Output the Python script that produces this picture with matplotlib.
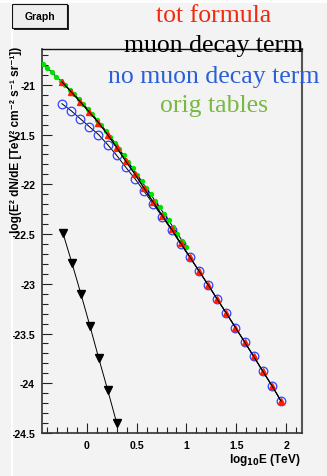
import matplotlib
matplotlib.use("Agg")
import matplotlib.pyplot as plt
from matplotlib.patches import Rectangle
from matplotlib.lines import Line2D
from matplotlib.ticker import MultipleLocator

# ---------------- data ----------------
logE = [-0.250, -0.158, -0.067, 0.025, 0.117, 0.208, 0.300, 0.392, 0.484,
        0.575, 0.667, 0.758, 0.850, 0.942, 1.034, 1.125, 1.217, 1.309,
        1.400, 1.492, 1.584, 1.675, 1.767, 1.859, 1.950]
tot_formula = [-20.97, -21.07, -21.17, -21.275, -21.38, -21.50, -21.63, -21.77,
               -21.90, -22.04, -22.18, -22.315, -22.45, -22.59, -22.73, -22.87,
               -23.01, -23.155, -23.295, -23.44, -23.585, -23.73, -23.88,
               -24.025, -24.18]
no_muon = [-21.19, -21.26, -21.34, -21.42, -21.50, -21.60, -21.71, -21.83,
           -21.945, -22.07, -22.20, -22.325, -22.46, -22.60, -22.735, -22.87,
           -23.01, -23.155, -23.295, -23.44, -23.585, -23.73, -23.88,
           -24.025, -24.18]
muon_logE = [-0.240, -0.150, -0.060, 0.030, 0.120, 0.210, 0.300]
muon_decay = [-22.49, -22.79, -23.10, -23.42, -23.75, -24.07, -24.40]
orig_logE = [-0.440, -0.395, -0.350, -0.305, -0.260, -0.215, -0.170, -0.125,
             -0.080, -0.035, 0.010, 0.055, 0.100, 0.145, 0.190, 0.235, 0.280,
             0.325, 0.370, 0.415, 0.460, 0.505, 0.550, 0.595, 0.640, 0.685,
             0.730, 0.775, 0.820, 0.865, 0.910, 0.955, 1.000]
orig_tables = [-20.79, -20.83, -20.875, -20.92, -20.96, -21.005, -21.05,
               -21.095, -21.145, -21.195, -21.245, -21.295, -21.35, -21.405,
               -21.46, -21.52, -21.58, -21.645, -21.71, -21.775, -21.84,
               -21.905, -21.97, -22.035, -22.10, -22.165, -22.23, -22.295,
               -22.36, -22.43, -22.495, -22.565, -22.635]

legend_labels = ["tot formula", "muon decay term", "no muon decay term", "orig tables"]
legend_colors = ["#f02a10", "#000000", "#2a5fd8", "#78b843"]

xticks = [0, 0.5, 1, 1.5, 2]
yticks = [-24.5, -24, -23.5, -23, -22.5, -22, -21.5, -21]

# ---------------- figure ----------------
W, H = 327, 477
bg = "#f3f3f3"
fig = plt.figure(figsize=(W / 100, H / 100), dpi=100, facecolor=bg)
ax = fig.add_axes([42 / W, 1 - 434 / H, (302 - 42) / W, (434 - 50) / H])
ax.set_facecolor(bg)

# canvas bevel edges
fig.add_artist(Line2D([11.5 / W, 11.5 / W], [0, 1], color="white", lw=1.5,
                      transform=fig.transFigure))
fig.add_artist(Line2D([0, 1], [1 - 1.5 / H, 1 - 1.5 / H], color="white", lw=2,
                      transform=fig.transFigure))

lw_line = 0.7
ax.plot(orig_logE, orig_tables, color="black", lw=lw_line, marker="o",
        markersize=2.8, markerfacecolor="#00e000", markeredgecolor="#00e000", zorder=3)
ax.plot(logE, no_muon, color="black", lw=lw_line, marker="o", markersize=6.2,
        markerfacecolor="none", markeredgecolor="#2f44ff", markeredgewidth=0.9, zorder=2)
ax.plot(logE, tot_formula, color="black", lw=lw_line, marker="^", markersize=4.6,
        markerfacecolor="#ff2000", markeredgecolor="#ff2000", zorder=4)
ax.plot(logE, tot_formula, color="black", lw=lw_line, zorder=5)
ax.plot(muon_logE, muon_decay, color="black", lw=lw_line, marker="v",
        markersize=6, markerfacecolor="black", markeredgecolor="black", zorder=3)

ax.set_xlim(-0.45, 2.16)
ax.set_ylim(-24.5, -20.64)
ax.set_xticks(xticks)
ax.set_xticklabels(["0", "0.5", "1", "1.5", "2"])
ax.set_yticks(yticks)
ax.set_yticklabels(["-24.5", "-24", "-23.5", "-23", "-22.5", "-22", "-21.5", "-21"])
ax.xaxis.set_minor_locator(MultipleLocator(0.1))
ax.yaxis.set_minor_locator(MultipleLocator(0.1))
ax.tick_params(which="major", direction="in", length=7.5, width=0.8, color="#222222",
               top=False, right=False, pad=5)
ax.tick_params(which="minor", direction="in", length=4, width=0.8, color="#222222",
               top=False, right=False)
for lab in ax.get_xticklabels() + ax.get_yticklabels():
    lab.set_fontfamily(["Liberation Sans", "DejaVu Sans"])
    lab.set_fontweight("bold")
    lab.set_fontsize(7.6)
for s in ["left", "bottom"]:
    ax.spines[s].set_color("#333333")
    ax.spines[s].set_linewidth(1.2)
ax.spines["right"].set_color("#555555")
ax.spines["right"].set_linewidth(1.5)
ax.spines["top"].set_color("#111111")
ax.spines["top"].set_linewidth(1.0)

# axis titles
fig.text(16 / W, 1 - 47 / H,
         "log(E² dN/dE [TeV² cm⁻² s⁻¹ sr⁻¹])",
         rotation=90, ha="center", va="top", fontsize=8.6, fontweight="bold",
         family=["Liberation Sans", "DejaVu Sans"])
fig.text(300 / W, 1 - 460 / H, r"log$_{\mathbf{10}}$E (TeV)", ha="right", va="center",
         fontsize=8.5, fontweight="bold", family=["Liberation Sans", "DejaVu Sans"])

# "Graph" box
fig.add_artist(Rectangle((14 / W, 1 - 31 / H), 55 / W, 25 / H, transform=fig.transFigure,
                         facecolor="#222222", edgecolor="none", zorder=5))
fig.add_artist(Rectangle((12 / W, 1 - 29 / H), 55 / W, 24 / H, transform=fig.transFigure,
                         facecolor="#eeeeee", edgecolor="#111111", lw=0.8, zorder=6))
fig.text(39.5 / W, 1 - 17 / H, "Graph", ha="center", va="center", fontsize=7.5,
         fontweight="bold", family=["Liberation Sans", "DejaVu Sans"], zorder=7)

# legend-like texts
ys = [16, 46, 77, 106]
for lab, col, y in zip(legend_labels, legend_colors, ys):
    fig.text(214 / W, 1 - y / H, lab, ha="center", va="center", color=col,
             fontsize=18.5, family=["Liberation Serif", "DejaVu Serif"], zorder=8)

fig.savefig("out.png", dpi=100, facecolor=bg)
